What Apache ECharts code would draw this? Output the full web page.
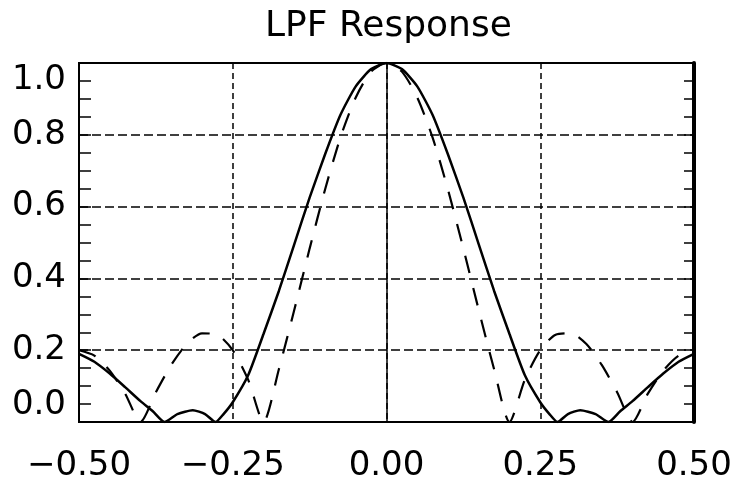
<!DOCTYPE html>
<html>
<head>
<meta charset="utf-8">
<script src="https://cdn.jsdelivr.net/npm/echarts@6/dist/echarts.min.js"></script>
<style>
html,body{margin:0;padding:0;background:#fff;}
#chart{width:737px;height:479px;}
</style>
</head>
<body>
<div id="chart"></div>
<script>
// ---- data ----
var titleText = 'LPF Response';
var xTicks = [-0.5, -0.25, 0, 0.25, 0.5];
var yTicks = [0, 0.2, 0.4, 0.6, 0.8, 1.0];

// solid curve
var solidX = [-0.5, -0.475, -0.45, -0.425, -0.4, -0.38, -0.361, -0.34, -0.315, -0.295, -0.278, -0.265, -0.25, -0.225, -0.2, -0.175, -0.15, -0.125, -0.1, -0.075, -0.05, -0.025, 0,
              0.025, 0.05, 0.075, 0.1, 0.125, 0.15, 0.175, 0.2, 0.225, 0.25, 0.265, 0.278, 0.295, 0.315, 0.34, 0.361, 0.38, 0.4, 0.425, 0.45, 0.475, 0.5];
var solidY = [0.19, 0.168, 0.135, 0.097, 0.058, 0.03, 0, 0.022, 0.033, 0.022, 0, 0.022, 0.055, 0.13, 0.245, 0.365, 0.495, 0.625, 0.745, 0.855, 0.935, 0.983, 1.0,
              0.983, 0.935, 0.855, 0.745, 0.625, 0.495, 0.365, 0.245, 0.13, 0.055, 0.022, 0, 0.022, 0.033, 0.022, 0, 0.03, 0.058, 0.097, 0.135, 0.168, 0.19];

// dashed curve
var dashedX = [-0.5, -0.475, -0.45, -0.425, -0.4, -0.375, -0.35, -0.325, -0.3, -0.275, -0.25, -0.225, -0.2, -0.175, -0.15, -0.125, -0.1, -0.075, -0.05, -0.025, 0,
               0.025, 0.05, 0.075, 0.1, 0.125, 0.15, 0.175, 0.2, 0.225, 0.25, 0.275, 0.3, 0.325, 0.35, 0.375, 0.4, 0.425, 0.45, 0.475, 0.5];
var dashedY = [0.2, 0.185, 0.143, 0.079, 0, 0.083, 0.159, 0.217, 0.247, 0.243, 0.2, 0.118, 0, 0.147, 0.312, 0.483, 0.647, 0.792, 0.904, 0.976, 1.0,
               0.976, 0.904, 0.792, 0.647, 0.483, 0.312, 0.147, 0, 0.118, 0.2, 0.243, 0.247, 0.217, 0.159, 0.083, 0, 0.079, 0.143, 0.185, 0.2];

function pairs(xs, ys) { return xs.map(function (x, i) { return [x, ys[i]]; }); }

var FONT = 'DejaVu Sans';
var tickAxis = function (pos, len, lineW) {
  return {
    type: 'value', position: pos, min: yTicks[0], max: yTicks[yTicks.length - 1], interval: 0.2,
    axisLine: {show: true, onZero: false, lineStyle: {color: '#000', width: lineW}},
    axisTick: {show: true, inside: true, length: len, lineStyle: {color: '#000', width: 1.5}},
    minorTick: {show: true, splitNumber: 4, length: len, lineStyle: {color: '#000', width: 1.5}},
    axisLabel: {show: false},
    splitLine: {show: false}
  };
};
var chart = echarts.init(document.getElementById('chart'), null, {renderer: 'canvas'});
chart.setOption({
  animation: false,
  backgroundColor: '#fff',
  title: {
    text: titleText,
    left: 260, top: 4,
    textStyle: {fontFamily: FONT, fontSize: 36, fontWeight: 'normal', color: '#000'}
  },
  grid: {left: 79, width: 615, top: 63, height: 359, show: true, borderColor: '#000', borderWidth: 2,
         backgroundColor: 'transparent', containLabel: false, outerBoundsMode: 'none'},
  xAxis: {
    type: 'value', min: xTicks[0], max: xTicks[xTicks.length - 1], interval: 0.25,
    axisLine: {show: true, onZero: false, lineStyle: {color: '#000', width: 2}},
    axisTick: {show: false},
    axisLabel: {
      color: '#000', fontFamily: FONT, fontSize: 34, margin: 27,
      formatter: function (v) { var s = Math.abs(v).toFixed(2); return v < 0 ? '\u2212' + s : s; }
    },
    splitLine: {show: true, lineStyle: {color: '#000', width: 1.5, type: [6, 4]}}
  },
  yAxis: [{
    type: 'value', position: 'left', min: yTicks[0], max: yTicks[yTicks.length - 1], interval: 0.2,
    axisLine: {show: true, onZero: false, lineStyle: {color: '#000', width: 2}},
    axisTick: {show: false},
    axisLabel: {
      color: '#000', fontFamily: FONT, fontSize: 34, margin: 13,
      verticalAlignMinLabel: 'bottom', verticalAlignMaxLabel: 'top',
      formatter: function (v) { return v.toFixed(1); }
    },
    splitLine: {show: true, lineStyle: {color: '#000', width: 1.5, type: [9, 4]}}
  }, tickAxis('right', 10, 4), tickAxis('left', 12, 2)],
  series: [{
    type: 'line', name: 'solid', data: pairs(solidX, solidY), showSymbol: false, smooth: 0.2,
    lineStyle: {color: '#000', width: 2.5, type: 'solid'},
    markLine: {
      silent: true, symbol: 'none', label: {show: false},
      lineStyle: {color: '#000', width: 1.5, type: 'solid'},
      data: [{xAxis: 0}]
    }
  }, {
    type: 'line', name: 'dashed', data: pairs(dashedX, dashedY), showSymbol: false, smooth: 0.25,
    lineStyle: {color: '#000', width: 2.2, type: [18, 15]}
  }]
});
</script>
</body>
</html>
